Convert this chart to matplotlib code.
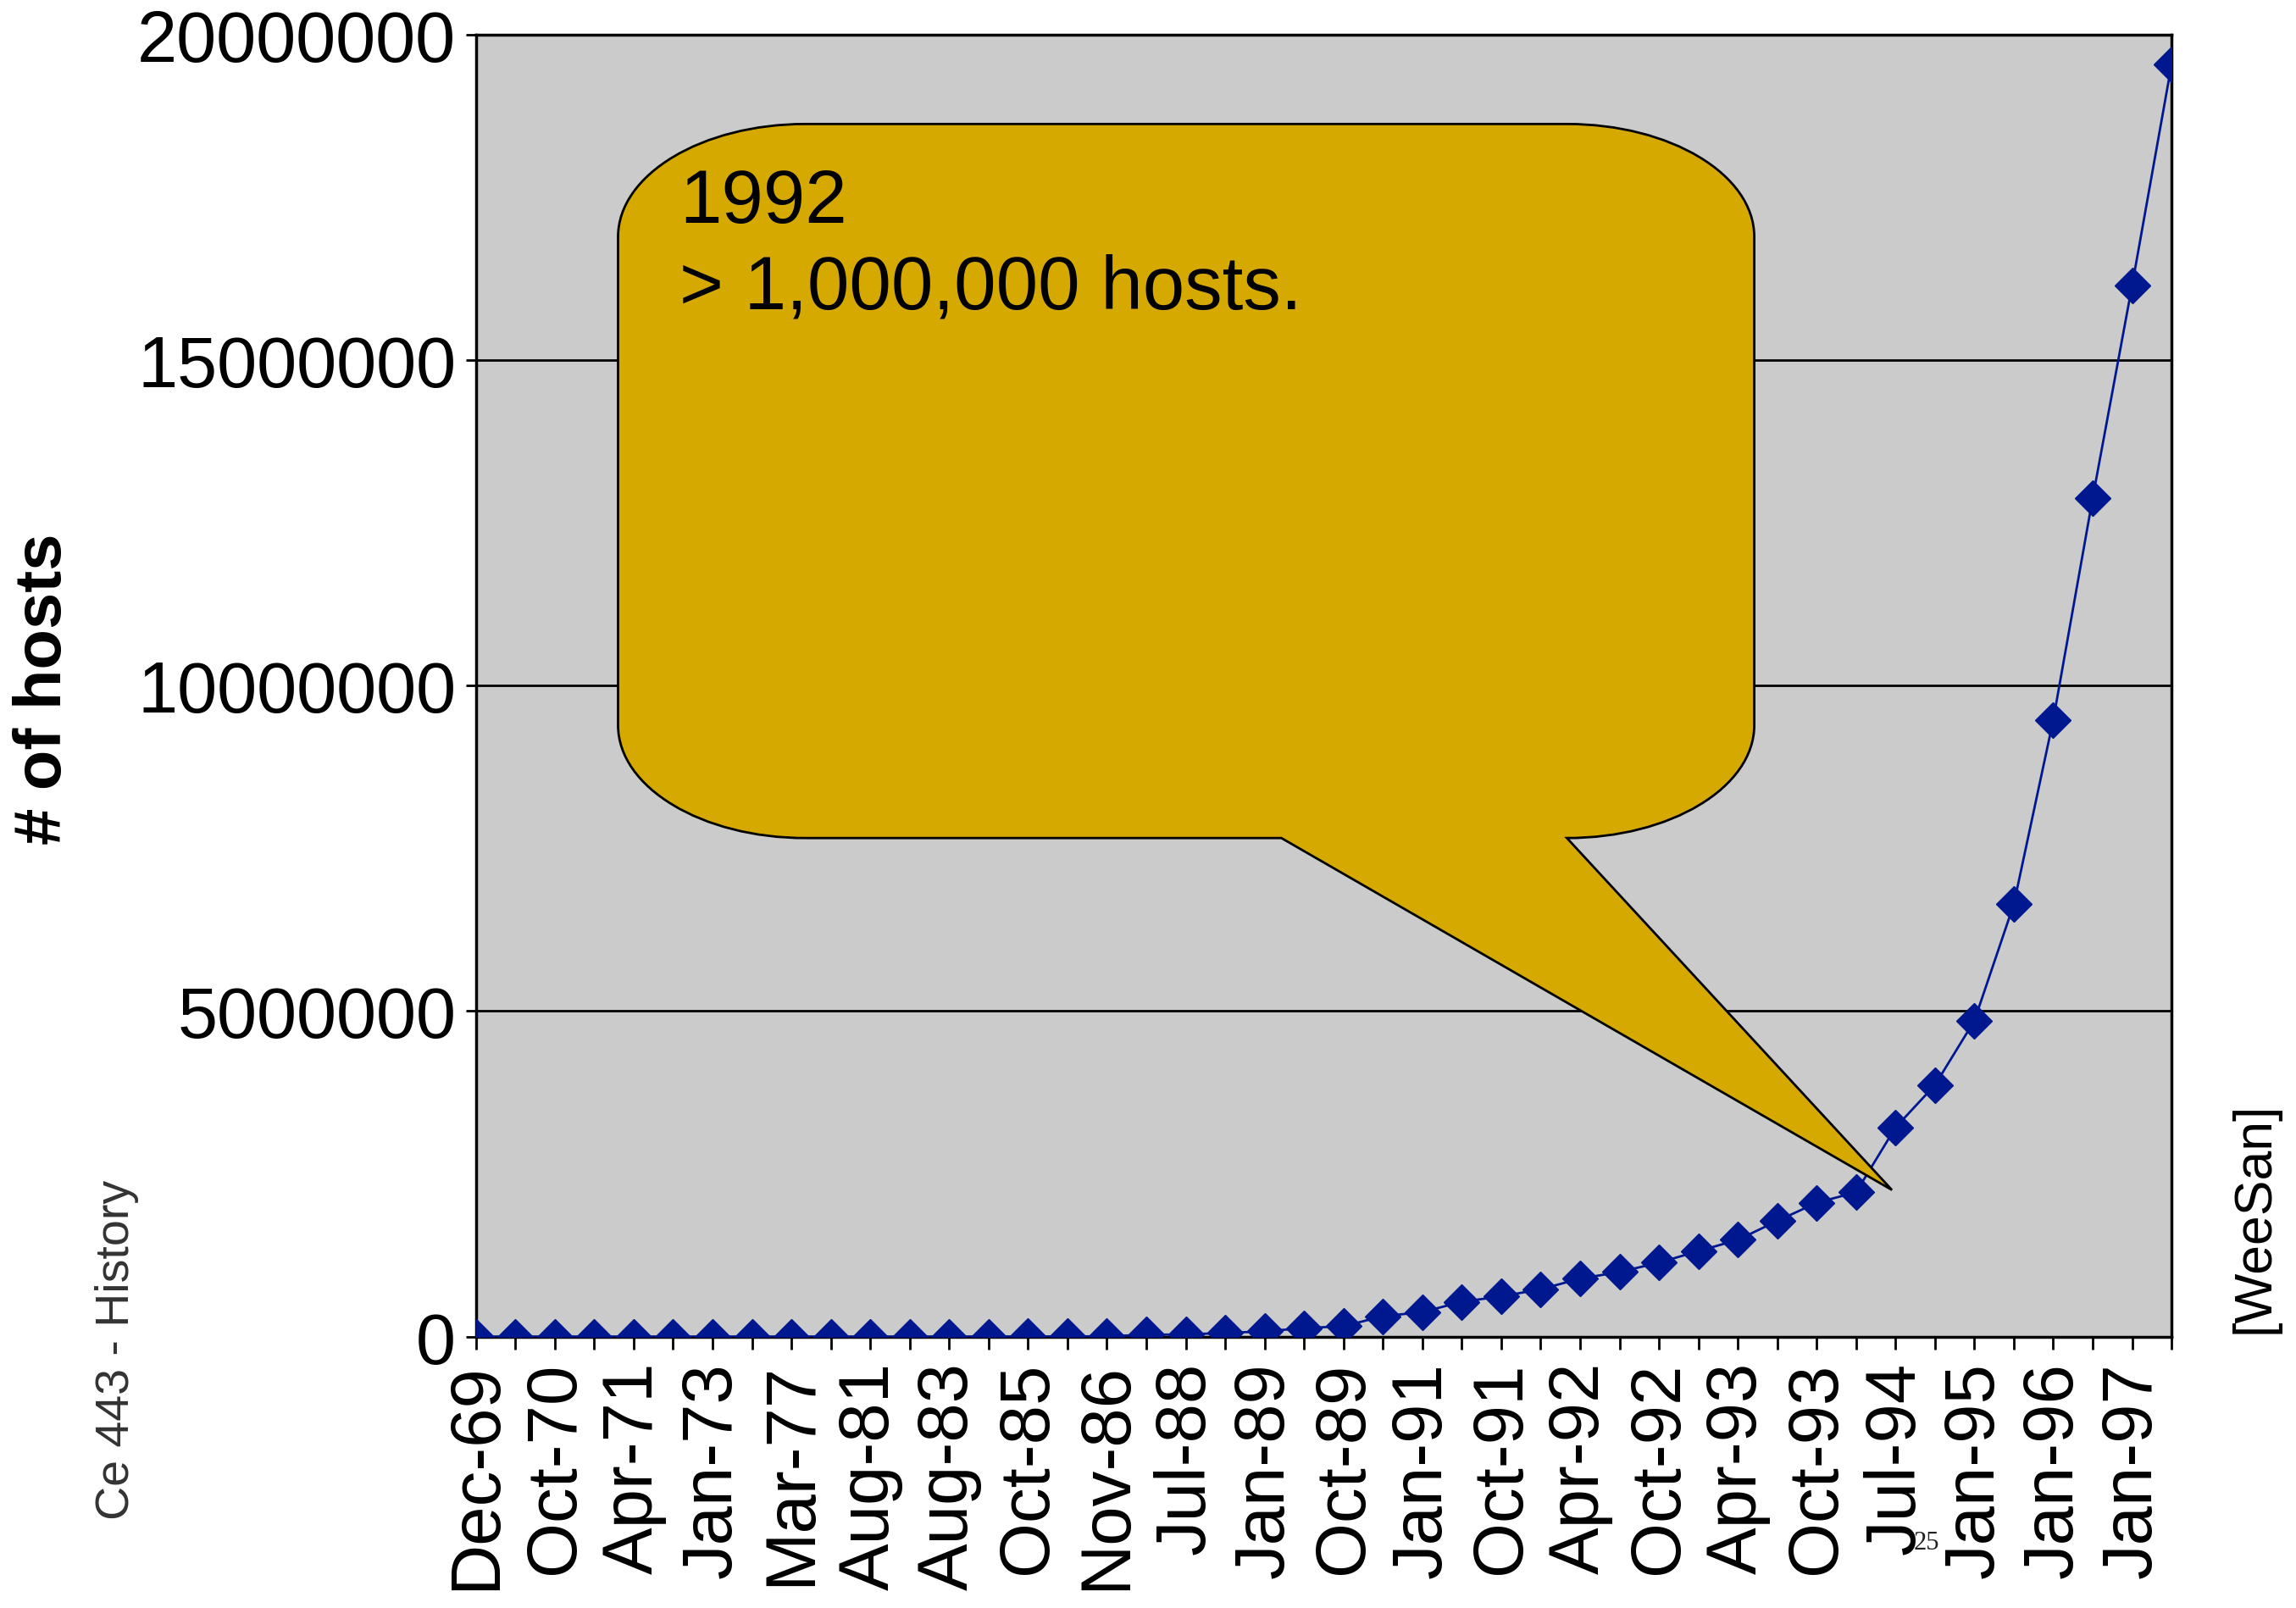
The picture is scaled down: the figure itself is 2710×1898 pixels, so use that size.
import matplotlib
matplotlib.use("Agg")
import matplotlib.pyplot as plt
from matplotlib.path import Path
from matplotlib.patches import PathPatch

plt.rcParams['font.family'] = ['Liberation Sans', 'DejaVu Sans']

# Internet host counts, one point per survey date
dates = ["Dec-69", "Jun-70", "Oct-70", "Dec-70", "Apr-71", "Oct-72", "Jan-73",
         "Jun-74", "Mar-77", "Dec-79", "Aug-81", "May-82", "Aug-83", "Oct-84",
         "Oct-85", "Feb-86", "Nov-86", "Dec-87", "Jul-88", "Oct-88", "Jan-89",
         "Jul-89", "Oct-89", "Oct-90", "Jan-91", "Jul-91", "Oct-91", "Jan-92",
         "Apr-92", "Jul-92", "Oct-92", "Jan-93", "Apr-93", "Jul-93", "Oct-93",
         "Jan-94", "Jul-94", "Oct-94", "Jan-95", "Jul-95", "Jan-96", "Jul-96",
         "Jan-97", "Jul-97"]
hosts = [4, 9, 11, 13, 23, 31, 35,
         62, 111, 188, 213, 235, 562, 1024,
         1961, 2308, 5089, 28174, 33000, 56000, 80000,
         130000, 159000, 313000, 376000, 535000, 617000, 727000,
         890000, 992000, 1136000, 1313000, 1486000, 1776000, 2056000,
         2217000, 3212000, 3864000, 4852000, 6642000, 9472000, 12881000,
         16146000, 19540000]
y_ticks = [0, 5000000, 10000000, 15000000, 20000000]

fig = plt.figure(figsize=(27.1, 18.99), dpi=100)
ax = fig.add_axes([0.2073, 0.1687, 0.7385, 0.8093])
ax.set_facecolor("#cbcbcb")

x = list(range(len(hosts)))
ax.plot(x, hosts, color="#00188f", lw=2, marker="D", ms=21,
        markerfacecolor="#00188f", markeredgecolor="#00188f", zorder=3)

ax.set_xlim(0, len(hosts) - 1)
ax.set_ylim(0, 20000000)
ax.set_yticks(y_ticks)
ax.set_yticklabels([str(v) for v in y_ticks], fontsize=61)
ax.set_xticks(x)
ax.set_xticklabels([d if i % 2 == 0 else "" for i, d in enumerate(dates)],
                   rotation=90, fontsize=60)
ax.tick_params(axis="x", direction="out", length=11, width=2, pad=10)
ax.tick_params(axis="y", direction="out", length=9, width=2, pad=8)
ax.grid(axis="y", color="black", lw=2)
ax.set_axisbelow(True)
for s in ax.spines.values():
    s.set_color("black")
    s.set_linewidth(2.5)

# speech bubble (axes fraction)
l, r, t, b = 0.0838, 0.7539, 0.9313, 0.3829
rx, ry = 0.1105, 0.0867
k = 0.5523
tl, tr = 0.4750, 0.6434
tip = (0.8351, 0.1126)
verts = [
    (l, t - ry),
    (l, t - ry + k * ry), (l + rx - k * rx, t), (l + rx, t),
    (r - rx, t),
    (r - rx + k * rx, t), (r, t - ry + k * ry), (r, t - ry),
    (r, b + ry),
    (r, b + ry - k * ry), (r - rx + k * rx, b), (r - rx, b),
    (tr, b),
    tip,
    (tl, b),
    (l + rx, b),
    (l + rx - k * rx, b), (l, b + ry - k * ry), (l, b + ry),
    (l, t - ry),
]
codes = [Path.MOVETO,
         Path.CURVE4, Path.CURVE4, Path.CURVE4,
         Path.LINETO,
         Path.CURVE4, Path.CURVE4, Path.CURVE4,
         Path.LINETO,
         Path.CURVE4, Path.CURVE4, Path.CURVE4,
         Path.LINETO, Path.LINETO, Path.LINETO, Path.LINETO,
         Path.CURVE4, Path.CURVE4, Path.CURVE4,
         Path.CLOSEPOLY]
bubble = PathPatch(Path(verts, codes), transform=ax.transAxes,
                   facecolor="#d6a900", edgecolor="black", lw=2, zorder=4)
ax.add_patch(bubble)
ax.text(0.12, 0.838, "1992\n> 1,000,000 hosts.", transform=ax.transAxes,
        fontsize=64, va="center", ha="left", linespacing=1.26, zorder=5)

fig.text(0.019, 0.572, "# of hosts", rotation=90, fontsize=56,
         fontweight="bold", ha="center", va="center")
fig.text(0.051, 0.161, "Ce 443 - History", rotation=90, fontsize=40,
         color="#333333", ha="center", va="center")
fig.text(0.982, 0.243, "[WeeSan]", rotation=90, fontsize=45,
         ha="center", va="center")
fig.text(0.839, 0.041, "25", fontsize=22, family="Liberation Serif",
         color="#222222", ha="center", va="center")

fig.savefig("out.png", dpi=100)
